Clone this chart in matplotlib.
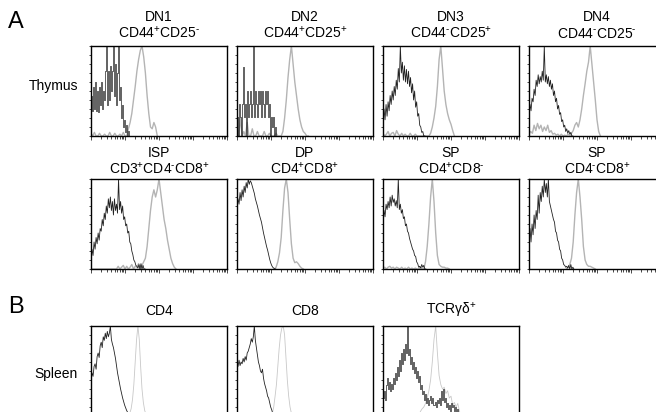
import numpy as np
import matplotlib.pyplot as plt
from matplotlib.ticker import LogLocator, NullFormatter

plt.rcParams['font.family'] = ['Liberation Sans', 'DejaVu Sans']
plt.rcParams['mathtext.fontset'] = 'custom'
plt.rcParams['mathtext.rm'] = 'Liberation Sans'
plt.rcParams['mathtext.it'] = 'Liberation Sans'
plt.rcParams['mathtext.default'] = 'regular'

# Histogram heights (% of max) along the log fluorescence axis.
# Each curve starts at x0 (decades) and steps by dx decades.
dn1_black = [45, 28, 55, 30, 60, 28, 50, 27, 55, 35, 60, 30, 50, 40, 72, 100, 35, 72, 40, 78,
             50, 72, 100, 45, 80, 35, 70, 100, 40, 55, 20, 35, 10, 18, 5, 12, 0, 6, 0, 0]
dn1_grey = [3, 0, 4, 0, 0, 3, 0, 0, 2, 0, 0, 4, 0, 0, 3, 0, 0, 2, 0, 4, 0, 0,
            8, 15, 25, 40, 55, 72, 85, 95, 100, 88, 70, 45, 25, 10, 8, 15, 10, 0]

dn2_black = [21, 0, 36, 21, 0, 36, 77, 21, 36, 0, 50, 21, 36, 50, 21, 36, 100, 21, 50, 36,
             21, 50, 36, 50, 21, 50, 36, 21, 50, 36, 50, 21, 36, 0, 21, 10, 21, 0, 10, 0, 0]
dn2_grey = [10, 0, 20, 0, 5, 0, 15, 0, 0, 8, 0, 0, 5, 0, 0, 0, 5, 0, 0, 3, 0, 0, 0, 3, 0, 0, 0,
            5, 20, 40, 65, 85, 100, 80, 60, 45, 30, 18, 10, 5, 3, 0, 0]

dn3_black = [15, 30, 18, 35, 22, 38, 28, 45, 35, 50, 40, 55, 45, 62, 52, 75, 60, 100, 70, 82,
             62, 78, 60, 74, 58, 72, 55, 65, 48, 58, 40, 50, 32, 38, 22, 25, 12, 10, 4, 5, 0, 0]
dn3_grey = [3, 0, 2, 5, 0, 3, 4, 0, 6, 2, 0, 3, 0, 2, 0, 0, 3, 0, 0, 2, 0, 0, 0, 0, 0, 0, 0, 0,
            3, 10, 20, 33, 55, 85, 100, 75, 50, 35, 25, 18, 13, 6, 0]

dn4_black = [25, 35, 28, 42, 38, 52, 45, 62, 55, 68, 58, 66, 60, 72, 62, 100, 60, 68, 58, 66,
             55, 62, 52, 58, 45, 50, 38, 42, 30, 34, 24, 26, 16, 18, 10, 12, 5, 8, 3, 6, 2, 4, 0, 0]
dn4_grey = [2, 5, 3, 12, 6, 14, 8, 12, 5, 10, 6, 12, 4, 6, 2, 3, 1, 2, 0, 2, 0, 1, 0, 2, 0, 3,
            6, 12, 15, 10, 18, 30, 45, 58, 72, 82, 100, 80, 60, 40, 18, 5, 0]

isp_black = [12, 22, 15, 30, 22, 35, 28, 40, 32, 45, 42, 55, 48, 62, 55, 70, 62, 78, 68, 80,
             65, 75, 60, 78, 65, 72, 62, 100, 66, 75, 62, 70, 55, 58, 48, 50, 40, 42, 30, 28,
             20, 16, 10, 8, 4, 3, 1, 5, 0, 6, 0, 4, 0, 0]
isp_grey = [0, 0, 0, 0, 0, 0, 0, 0, 0, 0, 0, 0, 0, 0, 0, 0,
            3, 0, 2, 4, 0, 3, 0, 2, 5, 0, 3, 2, 6, 0, 4, 8, 12, 25, 45, 65, 80, 88, 80, 88,
            100, 85, 70, 55, 45, 32, 22, 12, 6, 2, 0]

dp_black = [70, 78, 72, 85, 76, 88, 80, 92, 85, 96, 90, 100, 94, 98, 96, 92, 88, 84, 78, 74,
            70, 65, 60, 56, 52, 46, 40, 35, 30, 25, 21, 16, 11, 7, 4, 2, 1, 0, 0]
dp_grey = [0, 2, 8, 18, 35, 65, 90, 100, 85, 55, 28, 12, 7, 8, 6, 3, 1, 0]

sp4_black = [55, 65, 58, 72, 66, 75, 68, 80, 70, 82, 74, 78, 70, 76, 68, 100, 66, 72, 62, 66,
             56, 58, 48, 50, 42, 40, 34, 30, 26, 22, 20, 15, 14, 8, 6, 2, 3, 1, 5, 2, 4, 0, 0]
sp4_grey = [0, 2, 0, 2, 3, 1, 2, 0, 2, 1, 0, 2, 0, 1, 0, 2, 0, 1, 0, 1, 0, 0, 2, 0, 0,
            8, 25, 50, 80, 100, 75, 40, 15, 5, 3, 2, 2, 1, 1, 0]

sp8_black = [28, 45, 30, 50, 38, 60, 45, 65, 55, 82, 62, 85, 75, 92, 80, 100, 85, 95, 80, 100,
             75, 70, 65, 60, 55, 52, 42, 40, 32, 30, 22, 20, 12, 10, 5, 4, 2, 3, 1, 4, 0, 5,
             0, 2, 0]
sp8_grey = [0, 2, 5, 12, 30, 60, 85, 100, 80, 55, 25, 10, 5, 3, 3, 2, 1, 0]

cd4_black = [40, 48, 44, 55, 58, 52, 66, 70, 65, 78, 82, 76, 88, 84, 92, 86, 94, 88, 92, 100,
             85, 80, 76, 70, 64, 56, 48, 42, 36, 30, 25, 20, 16, 12, 9, 6, 4, 2, 1, 1, 0]
cd4_grey = [0, 3, 8, 18, 35, 60, 85, 100, 85, 55, 30, 15, 6, 2, 0]

cd8_black = [60, 55, 62, 56, 60, 58, 64, 60, 66, 62, 70, 72, 76, 80, 86, 82, 88, 100, 84, 76,
             68, 60, 56, 50, 48, 52, 42, 36, 32, 28, 22, 20, 15, 10, 7, 3, 0]
cd8_grey = [0, 3, 10, 22, 35, 55, 75, 90, 98, 100, 90, 65, 40, 22, 10, 3, 0]

tcr_black = [20, 28, 18, 35, 42, 30, 38, 28, 36, 30, 42, 36, 48, 40, 55, 45, 62, 50, 70, 58,
             75, 62, 80, 70, 100, 68, 75, 58, 66, 52, 60, 48, 55, 42, 50, 38, 44, 30, 35, 24,
             28, 18, 24, 15, 20, 12, 18, 22, 14, 20, 12, 16, 10, 18, 14, 20, 12, 28, 18, 30,
             16, 20, 10, 14, 8, 12, 6, 14, 10, 12, 6, 10, 4, 8, 3, 0]
tcr_grey = [0, 2, 0, 0, 3, 0, 2, 0, 0, 4, 0, 2, 0, 0, 3, 0, 0, 2, 0, 0, 3, 0, 5,
            8, 10, 14, 20, 28, 40, 60, 85, 100, 70, 45, 35, 30, 32, 25, 28, 20, 22, 12, 15,
            10, 14, 5, 0]

P = r'$^{\text{+}}$'
M = r'$^{\text{-}}$'
row1_titles = [('DN1', 'CD44' + P + 'CD25' + M), ('DN2', 'CD44' + P + 'CD25' + P),
               ('DN3', 'CD44' + M + 'CD25' + P), ('DN4', 'CD44' + M + 'CD25' + M)]
row2_titles = [('ISP', 'CD3' + P + 'CD4' + M + 'CD8' + P), ('DP', 'CD4' + P + 'CD8' + P),
               ('SP', 'CD4' + P + 'CD8' + M), ('SP', 'CD4' + M + 'CD8' + P)]
row3_titles = ['CD4', 'CD8', 'TCRγδ' + P]

# (black, black x0, black dx, steps?), (grey, grey x0, grey dx)
row1 = [((dn1_black, 0.0, 0.03, True), (dn1_grey, 0.0, 0.05)),
        ((dn2_black, 0.0, 0.03, True), (dn2_grey, 0.0, 0.05)),
        ((dn3_black, 0.0, 0.03, False), (dn3_grey, 0.0, 0.05)),
        ((dn4_black, 0.0, 0.03, False), (dn4_grey, 0.0, 0.05))]
row2 = [((isp_black, 0.0, 0.03, False), (isp_grey, 0.0, 0.05)),
        ((dp_black, 0.0, 0.03, False), (dp_grey, 1.1, 0.05)),
        ((sp4_black, 0.0, 0.03, False), (sp4_grey, 0.0, 0.05)),
        ((sp8_black, 0.0, 0.03, False), (sp8_grey, 1.1, 0.05))]
row3 = [((cd4_black, 0.0, 0.03, False), (cd4_grey, 1.1, 0.04)),
        ((cd8_black, 0.0, 0.03, False), (cd8_grey, 1.0, 0.04)),
        ((tcr_black, 0.0, 0.03, True), (tcr_grey, 0.0, 0.05))]

W, H = 656, 412
fig = plt.figure(figsize=(W / 100, H / 100), dpi=100)

lefts = [91, 237, 383, 529]
pw, ph = 136, 90


def make_ax(left, top):
    ax = fig.add_axes([left / W, (H - top - ph) / H, pw / W, ph / H])
    ax.set_xscale('log')
    ax.set_xlim(1, 1e4)
    ax.set_ylim(0, 100)
    ax.xaxis.set_major_locator(LogLocator(base=10, numticks=10))
    ax.xaxis.set_minor_locator(LogLocator(base=10, subs=np.arange(2, 10), numticks=50))
    ax.xaxis.set_minor_formatter(NullFormatter())
    ax.set_yticks(np.arange(0, 101, 10))
    ax.tick_params(axis='both', which='both', direction='out', labelbottom=False,
                   labelleft=False, width=0.5)
    ax.tick_params(axis='x', which='major', length=3)
    ax.tick_params(axis='x', which='minor', length=2)
    ax.tick_params(axis='y', length=1.5)
    for s in ax.spines.values():
        s.set_linewidth(1.0)
    return ax


def draw(ax, black, grey, grey_col, grey_lw, black_lw):
    vals, x0, dx = grey
    x = 10 ** (x0 + dx * np.arange(len(vals)))
    ax.plot(x, vals, color=grey_col, lw=grey_lw)
    vals, x0, dx, steps = black
    x = 10 ** (x0 + dx * np.arange(len(vals)))
    ax.plot(x, vals, color='#222222', lw=black_lw,
            drawstyle='steps-mid' if steps else 'default')


def title_line(ax, txt, up_px):
    ax.annotate(txt, xy=(0.5, 1.0), xycoords='axes fraction',
                xytext=(0, up_px * 0.72), textcoords='offset points',
                ha='center', va='baseline', fontsize=10)


for i, ((blk, gry), (t1, t2)) in enumerate(zip(row1, row1_titles)):
    ax = make_ax(lefts[i], 46)
    draw(ax, blk, gry, '#b4b4b4', 1.0, 0.5 if blk[3] else 0.6)
    title_line(ax, t1, 25)
    title_line(ax, t2, 8)

for i, ((blk, gry), (t1, t2)) in enumerate(zip(row2, row2_titles)):
    ax = make_ax(lefts[i], 179)
    draw(ax, blk, gry, '#b4b4b4', 1.0, 0.6)
    title_line(ax, t1, 22)
    title_line(ax, t2, 5)

for i, ((blk, gry), t) in enumerate(zip(row3, row3_titles)):
    ax = make_ax(lefts[i], 326)
    draw(ax, blk, gry, '#c8c8c8', 0.6, 0.5 if blk[3] else 0.6)
    title_line(ax, t, 11)

fig.text(78 / W, 1 - 86 / H, 'Thymus', ha='right', va='center', fontsize=10)
fig.text(78 / W, 1 - 374 / H, 'Spleen', ha='right', va='center', fontsize=10)
fig.text(8 / W, 1 - 28 / H, 'A', ha='left', va='baseline', fontsize=17)
fig.text(8 / W, 1 - 313 / H, 'B', ha='left', va='baseline', fontsize=17)

fig.savefig('out.png', dpi=100)
